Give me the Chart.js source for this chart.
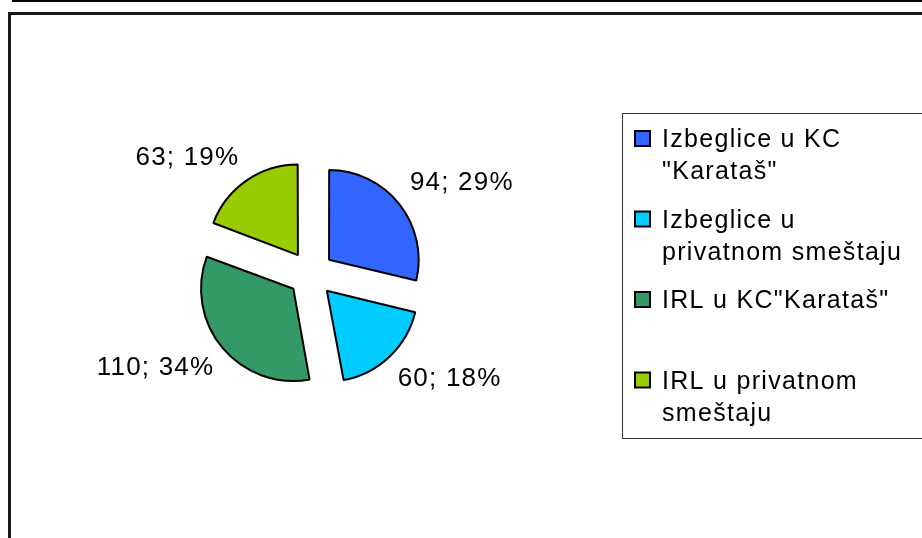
<!DOCTYPE html>
<html>
<head>
<meta charset="utf-8">
<script src="https://cdn.jsdelivr.net/npm/chart.js@4/dist/chart.umd.min.js"></script>
<style>
  body { margin: 0; background: #fff; }
  #wrap { position: relative; width: 922px; height: 538px; overflow: hidden; }
  #topLine { position: absolute; left: 12px; top: 0; width: 910px; height: 2px; background: #000; }
  #frame { position: absolute; left: 8px; top: 12px; width: 940px; height: 560px; border: 3px solid #1a1a1a; box-sizing: border-box; }
  canvas { position: absolute; left: 0; top: 0; }
</style>
</head>
<body>
<div id="wrap">
  <div id="topLine"></div>
  <div id="frame"></div>
  <canvas id="pieChart" width="922" height="538"></canvas>
</div>
<script>
// Kategorije (redovi legende) i vrednosti
const categories = [
    ['Izbeglice u KC', '"Karataš"'],
    ['Izbeglice u', 'privatnom smeštaju'],
    ['IRL u KC"Karataš"', ''],
    ['IRL u privatnom', 'smeštaju']
];
const values = [94, 60, 110, 63];
const sliceColors = ['#3366ff', '#00ccff', '#339966', '#99cc00'];

const total = values.reduce((a, b) => a + b, 0);

// Oznake "vrednost; procenat" pored kriški
const sliceLabels = {
    id: 'sliceLabels',
    afterDatasetsDraw(chart) {
        const ctx = chart.ctx;
        const meta = chart.getDatasetMeta(0);
        const ds = chart.data.datasets[0];
        ctx.save();
        ctx.font = '26px "Liberation Sans", Arial, sans-serif';
        ctx.letterSpacing = '1.2px';
        ctx.fillStyle = '#000';
        meta.data.forEach((arc, i) => {
            const mid = (arc.startAngle + arc.endAngle) / 2;
            // chart.js pomera kriške za offset/4
            const r = arc.outerRadius + ds.offset / 4 + 14;
            const dx = Math.cos(mid), dy = Math.sin(mid);
            const x = arc.x + dx * r;
            const y = arc.y + dy * r;
            const pct = Math.round(values[i] / total * 100);
            ctx.textAlign = dx >= 0 ? 'left' : 'right';
            ctx.textBaseline = dy < 0 ? 'bottom' : 'top';
            ctx.fillText(values[i] + '; ' + pct + '%', x, y);
        });
        ctx.restore();
    }
};

// Legenda sa prelomljenim tekstom
const boxLegend = {
    id: 'boxLegend',
    afterDraw(chart) {
        const ctx = chart.ctx;
        const ds = chart.data.datasets[0];
        ctx.save();
        ctx.strokeStyle = '#333';
        ctx.lineWidth = 1;
        ctx.strokeRect(622.5, 113.5, 320, 325);
        ctx.font = '25px "Liberation Sans", Arial, sans-serif';
        ctx.letterSpacing = '1.3px';
        ctx.textBaseline = 'alphabetic';
        chart.data.labels.forEach((lines, i) => {
            const base = 147 + i * 80.5;
            ctx.fillStyle = ds.backgroundColor[i];
            ctx.fillRect(635, base - 16, 15, 15);
            ctx.strokeStyle = '#000';
            ctx.lineWidth = 2;
            ctx.strokeRect(635, base - 16, 15, 15);
            ctx.fillStyle = '#000';
            lines.forEach((t, j) => ctx.fillText(t, 662, base + j * 32));
        });
        ctx.restore();
    }
};

const pieCtx = document.getElementById('pieChart').getContext('2d');
const pieChart = new Chart(pieCtx, {
    type: 'pie',
    data: {
        labels: categories,
        datasets: [{
            data: values,
            backgroundColor: sliceColors,
            borderColor: '#000',
            borderWidth: 2,
            offset: 92
        }]
    },
    options: {
        responsive: false,
        animation: false,
        radius: 89,
        layout: { padding: { left: 0, right: 300, top: 10, bottom: 0 } },
        plugins: {
            legend: { display: false },
            tooltip: { enabled: false }
        }
    },
    plugins: [sliceLabels, boxLegend]
});
</script>
</body>
</html>
